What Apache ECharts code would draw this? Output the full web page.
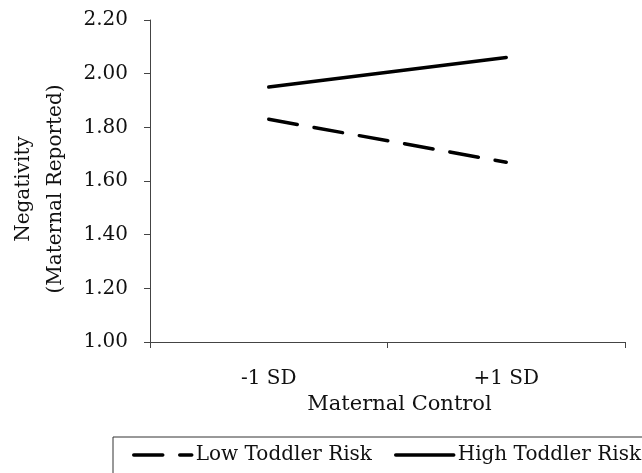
<!DOCTYPE html>
<html>
<head>
<meta charset="utf-8">
<script src="https://cdn.jsdelivr.net/npm/echarts@6/dist/echarts.min.js"></script>
<style>
html,body{margin:0;padding:0;background:#fff;}
#main{width:642px;height:473px;}
</style>
</head>
<body>
<div id="main"></div>
<script>
const categories = ['-1 SD', '+1 SD'];
const lowRisk = [1.83, 1.67];
const highRisk = [1.95, 2.06];
const yTicks = { min: 1.0, max: 2.2, interval: 0.2 };
const seriesNames = ['Low Toddler Risk', 'High Toddler Risk'];
const xTitle = 'Maternal Control';
const yTitle = 'Negativity\n(Maternal Reported)';

const font = 'DejaVu Serif';
const dashLow = [29, 17];
const lineW = 3.5;
const chart = echarts.init(document.getElementById('main'), null, { renderer: 'canvas' });
chart.setOption({
  animation: false,
  backgroundColor: '#ffffff',
  grid: { left: 150, right: 17, top: 20, bottom: 131, containLabel: false, outerBoundsMode: 'none' },
  xAxis: {
    type: 'category',
    data: categories,
    boundaryGap: true,
    axisLine: { lineStyle: { color: '#444', width: 1 } },
    axisTick: { show: true, length: 6, inside: false, lineStyle: { color: '#444' } },
    axisLabel: { color: '#111', fontFamily: font, fontSize: 20, margin: 27 },
    name: xTitle,
    nameLocation: 'middle',
    nameGap: 52,
    nameTextStyle: { color: '#111', fontFamily: font, fontSize: 21, padding: [0, 0, 0, 24] }
  },
  yAxis: {
    type: 'value',
    min: yTicks.min,
    max: yTicks.max,
    interval: yTicks.interval,
    splitLine: { show: false },
    axisLine: { show: true, lineStyle: { color: '#444', width: 1 } },
    axisTick: { show: true, length: 6, lineStyle: { color: '#444' } },
    axisLabel: { color: '#111', fontFamily: font, fontSize: 20, margin: 22, formatter: v => v.toFixed(2) },
    name: yTitle,
    nameLocation: 'middle',
    nameRotate: 90,
    nameGap: 78,
    nameTextStyle: { color: '#111', fontFamily: font, fontSize: 20, lineHeight: 32, padding: [0, 0, 0, -16] }
  },
  legend: {
    left: 113,
    top: 437,
    width: 560,
    orient: 'horizontal',
    borderColor: '#333',
    borderWidth: 1,
    padding: [8, 10, 30, 19],
    itemGap: 22,
    itemWidth: 58,
    itemHeight: 14,
    itemStyle: { opacity: 0 },
    textStyle: { color: '#111', fontFamily: font, fontSize: 20, padding: [0, 0, 0, -1] },
    data: [
      { name: seriesNames[0], lineStyle: { color: '#000', width: lineW, type: dashLow, cap: 'round' } },
      { name: seriesNames[1], lineStyle: { color: '#000', width: lineW, type: 'solid', cap: 'round' } }
    ]
  },
  series: [
    {
      name: seriesNames[0],
      type: 'line',
      data: lowRisk,
      symbol: 'none',
      lineStyle: { color: '#000', width: lineW, type: dashLow, cap: 'round' },
      itemStyle: { color: '#000' }
    },
    {
      name: seriesNames[1],
      type: 'line',
      data: highRisk,
      symbol: 'none',
      lineStyle: { color: '#000', width: lineW, type: 'solid', cap: 'round' },
      itemStyle: { color: '#000' }
    }
  ]
});
</script>
</body>
</html>
